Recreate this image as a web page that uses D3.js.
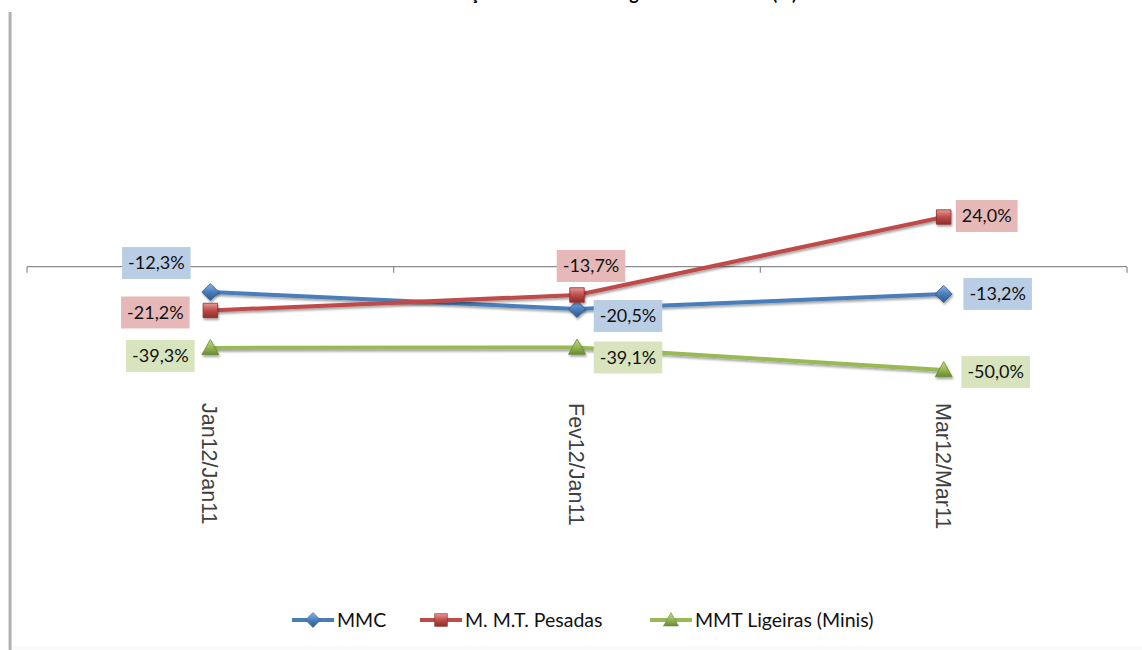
<!DOCTYPE html>
<html><head><meta charset="utf-8">
<script src="https://cdn.jsdelivr.net/npm/d3@7/dist/d3.min.js"></script>
<style>body{margin:0;background:#fff;}svg{display:block;}</style>
</head><body>
<svg id="chart" width="1142" height="650"></svg>
<script>
// ---- data ----
const categories = ["Jan12/Jan11", "Fev12/Jan11", "Mar12/Mar11"];
const seriesNames = ["MMC", "M. M.T. Pesadas", "MMT Ligeiras (Minis)"];
const mmc = [-12.3, -20.5, -13.2];
const pesadas = [-21.2, -13.7, 24.0];
const ligeiras = [-39.3, -39.1, -50.0];
const titleText = "Variação Mensal Homóloga das Matrículas (%)";

// ---- layout / style ----
const W = 1142, H = 650;
const colors = ["#4A7EBB", "#BE4B48", "#98B954"];
const darks = ["#2C5A8C", "#8C2E2B", "#6B8A35"];
const lights = ["#8DB4E2", "#E59A98", "#C5DC93"];
const boxFill = ["#B9CDE5", "#E6B9B8", "#D7E4BD"];
const shapes = ["diamond", "square", "triangle"];
// label offsets (px) relative to each point, per series / category
const labelPlacement = [
  [[-54, -29], [51, 7], [54, 0]],
  [[-55, 2], [14, -29], [43, -1]],
  [[-50, 8], [51, 10], [52, 2]]
];

const svg = d3.select("#chart");
const defs = svg.append("defs");
const fmt = v => d3.format(".1f")(v).replace(".", ",").replace("\u2212", "-") + "%";

// frame edge
const fg = defs.append("linearGradient").attr("id","edge").attr("x1",0).attr("x2",1);
fg.append("stop").attr("offset",0).attr("stop-color","#f4f4f4");
fg.append("stop").attr("offset",0.5).attr("stop-color","#9a9a9a");
fg.append("stop").attr("offset",1).attr("stop-color","#e8e8e8");
svg.append("rect").attr("x",8).attr("y",12).attr("width",4).attr("height",H-12).attr("fill","url(#edge)");
svg.append("rect").attr("x",12).attr("y",H-4).attr("width",W-12).attr("height",4).attr("fill","#fafafa");

// title (clipped at the top edge, as in the source picture)
svg.append("text").attr("x", 797).attr("y", 0).attr("text-anchor","end")
  .attr("font-family","Lato, 'Open Sans', sans-serif").attr("font-weight","bold")
  .attr("font-size",18).attr("fill","#000").text(titleText);

// scales
const x = d3.scaleBand().domain(categories).range([27, 1127]);
const y = d3.scaleLinear().domain([-60, 30]).range([390.7, 204.6]);
const cx = c => x(c) + x.bandwidth()/2;

// x axis at 0
const axis = d3.axisBottom(x).tickSize(6).tickFormat("");
const gAx = svg.append("g").attr("transform",`translate(0,${y(0)})`).call(axis);
gAx.select(".domain").attr("stroke","#8c8c8c").attr("stroke-width",1.2).attr("d", `M27,0H1127`);
gAx.selectAll(".tick").remove();
const bounds = [27].concat(categories.map(c => x(c) + x.bandwidth()));
gAx.selectAll("line.b").data(bounds).join("line").attr("class","b")
  .attr("x1",d=>d).attr("x2",d=>d).attr("y1",0).attr("y2",6).attr("stroke","#8c8c8c").attr("stroke-width",1.2);

// category labels (rotated)
svg.selectAll("text.cat").data(categories).join("text").attr("class","cat")
  .attr("transform", c => `translate(${cx(c)-8},403) rotate(90)`)
  .attr("font-family","'Liberation Sans', Arial, sans-serif").attr("font-size",21.5)
  .attr("fill","#404040").text(c => c);

// gradients for markers
shapes.forEach((s,i) => {
  const g = defs.append("linearGradient").attr("id","mk"+i).attr("x1",0).attr("y1",0).attr("x2",0).attr("y2",1);
  g.append("stop").attr("offset",0).attr("stop-color",lights[i]);
  g.append("stop").attr("offset",0.5).attr("stop-color",colors[i]);
  g.append("stop").attr("offset",1).attr("stop-color",darks[i]);
});
const flt = defs.append("filter").attr("id","shadow").attr("x","-20%").attr("y","-20%").attr("width","150%").attr("height","160%");
flt.append("feDropShadow").attr("dx",1).attr("dy",2).attr("stdDeviation",1.2).attr("flood-color","#000").attr("flood-opacity",0.35);

function markerPath(shape, size) {
  const h = size/2;
  if (shape === "diamond") return `M0,${-h}L${h},0L0,${h}L${-h},0Z`;
  if (shape === "square") return `M${-h*0.85},${-h*0.85}H${h*0.85}V${h*0.85}H${-h*0.85}Z`;
  return `M0,${-h}L${h},${h*0.8}H${-h}Z`;
}

const allSeries = [mmc, pesadas, ligeiras];
const line = d3.line().x((d,i) => cx(categories[i])).y(d => y(d));

allSeries.forEach((vals,i) => {
  svg.append("path").datum(vals).attr("d", line).attr("fill","none")
    .attr("stroke", colors[i]).attr("stroke-width",4).attr("stroke-linejoin","round")
    .attr("filter","url(#shadow)");
});
allSeries.forEach((vals,i) => {
  svg.selectAll("path.m"+i).data(vals).join("path").attr("class","m"+i)
    .attr("transform",(d,j) => `translate(${cx(categories[j])},${y(d)})`)
    .attr("d", markerPath(shapes[i], 17))
    .attr("fill","url(#mk"+i+")").attr("stroke",darks[i]).attr("stroke-width",0.8)
    .attr("filter","url(#shadow)");
});
allSeries.forEach((vals,i) => {
  vals.forEach((v,j) => {
    const px = cx(categories[j]) + labelPlacement[i][j][0];
    const py = y(v) + labelPlacement[i][j][1];
    const g = svg.append("g").attr("transform",`translate(${px},${py})`);
    const t = g.append("text").attr("text-anchor","middle").attr("dy","0.35em")
      .attr("font-family","Lato, 'Open Sans', sans-serif").attr("font-size",18)
      .attr("fill","#111").text(fmt(v));
    const bb = t.node().getBBox();
    g.insert("rect","text").attr("x",bb.x-6).attr("y",-16).attr("width",bb.width+12).attr("height",32)
      .attr("fill",boxFill[i]);
  });
});

// legend
const legendX = [292, 420, 650];
const lg = svg.append("g").attr("transform","translate(0,620)");
seriesNames.forEach((n,i) => {
  const g = lg.append("g").attr("transform",`translate(${legendX[i]},0)`);
  g.append("line").attr("x1",0).attr("x2",42).attr("stroke",colors[i]).attr("stroke-width",4);
  g.append("path").attr("transform","translate(21,0)").attr("d",markerPath(shapes[i],15))
    .attr("fill","url(#mk"+i+")").attr("stroke",darks[i]).attr("stroke-width",0.6);
  g.append("text").attr("x",45).attr("dy","0.35em").attr("font-family","Lato, 'Open Sans', sans-serif")
    .attr("font-size",19.5).attr("fill","#111").text(n);
});
</script>
</body></html>
